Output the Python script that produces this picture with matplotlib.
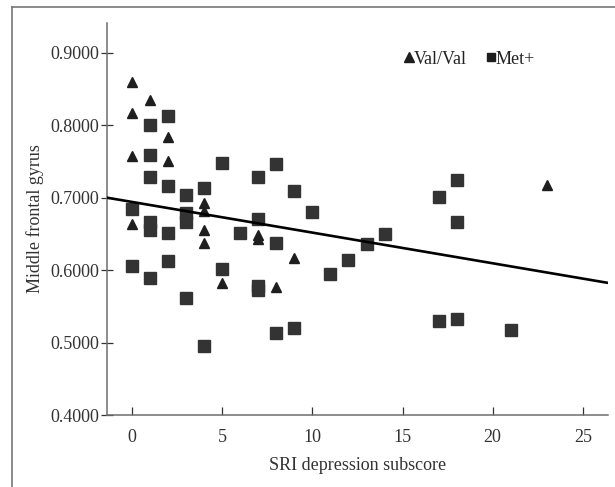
import matplotlib
matplotlib.use("Agg")
import matplotlib.pyplot as plt
from matplotlib.lines import Line2D
import numpy as np

# Val/Val (triangles)
valval_x = [0, 0, 0, 0, 1, 2, 2, 4, 4, 4, 4, 5, 7, 7, 8, 9, 23]
valval_y = [0.859, 0.817, 0.758, 0.663, 0.835, 0.784, 0.750,
            0.693, 0.681, 0.656, 0.637, 0.582, 0.649, 0.643, 0.577, 0.617, 0.717]

# Met+ (squares)
met_x = [0, 0,
         1, 1, 1, 1, 1, 1,
         2, 2, 2, 2,
         3, 3, 3, 3,
         4, 4,
         5, 5,
         6,
         7, 7, 7, 7,
         8, 8, 8,
         9, 9,
         10, 11, 12, 13, 14,
         17, 17,
         18, 18, 18,
         21]
met_y = [0.684, 0.606,
         0.800, 0.759, 0.729, 0.667, 0.656, 0.589,
         0.813, 0.716, 0.651, 0.613,
         0.704, 0.679, 0.667, 0.562,
         0.713, 0.495,
         0.748, 0.602,
         0.651,
         0.729, 0.671, 0.578, 0.572,
         0.746, 0.637, 0.513,
         0.709, 0.520,
         0.680, 0.594, 0.614, 0.636, 0.650,
         0.701, 0.530,
         0.724, 0.666, 0.532,
         0.517]

# Fitted regression line
fit_intercept = 0.694
fit_slope = -0.00423

x_ticks = [0, 5, 10, 15, 20, 25]
y_ticks = [0.4, 0.5, 0.6, 0.7, 0.8, 0.9]
y_ticklabels = ["0.4000", "0.5000", "0.6000", "0.7000", "0.8000", "0.9000"]

plt.rcParams['font.family'] = ['Liberation Serif', 'DejaVu Serif']

W, H = 615, 487
fig = plt.figure(figsize=(W / 100, H / 100), dpi=100)
ax = fig.add_axes([107 / W, 1 - 415 / H, (608 - 107) / W, (415 - 23) / H])

xlim = (-1.4, 26.4)
ylim = (0.4, 0.941)

ax.plot(met_x, met_y, linestyle='none', marker='s', markersize=8.2,
        color='#333333', label='Met+', zorder=3)
ax.plot(valval_x, valval_y, linestyle='none', marker='^', markersize=7,
        color='#1e1e1e', label='Val/Val', zorder=4)

lx = np.array(xlim)
ax.plot(lx, fit_intercept + fit_slope * lx, color='black', lw=1.9, zorder=5)

ax.set_xlim(*xlim)
ax.set_ylim(*ylim)
ax.set_xticks(x_ticks)
ax.set_yticks(y_ticks)
ax.set_yticklabels(y_ticklabels)

for s in ['top', 'right']:
    ax.spines[s].set_visible(False)
for s in ['left', 'bottom']:
    ax.spines[s].set_color('#6e6e6e')
    ax.spines[s].set_linewidth(1.1)

ax.tick_params(axis='x', direction='in', length=5.5, width=0.9, color='#333333',
               labelsize=13, pad=10, labelcolor='#333333')
ax.tick_params(axis='y', direction='inout', length=9, width=0.9, color='#333333',
               labelsize=13, pad=1, labelcolor='#333333')

ax.set_xlabel('SRI depression subscore', fontsize=13, color='#333333', labelpad=8)
ax.set_ylabel('Middle frontal gyrus', fontsize=13, color='#333333', labelpad=5)

handles = [Line2D([], [], linestyle='none', marker='^', markersize=7, color='#1e1e1e'),
           Line2D([], [], linestyle='none', marker='s', markersize=6, color='#1e1e1e')]
fig.legend(handles, ['Val/Val', 'Met+'], loc='center', ncol=2,
           bbox_to_anchor=(470 / W, 1 - 59 / H), frameon=False,
           handlelength=0.5, handletextpad=0.0, columnspacing=1.1,
           prop={'size': 13}, labelcolor='#222222')

# outer frame
fig.add_artist(Line2D([12 / W, 1.0], [1 - 7 / H, 1 - 7 / H], transform=fig.transFigure,
                      color='#777777', lw=1.2))
fig.add_artist(Line2D([12 / W, 12 / W], [1 - 7 / H, 0.0], transform=fig.transFigure,
                      color='#777777', lw=1.2))

fig.savefig('out.png', dpi=100)
